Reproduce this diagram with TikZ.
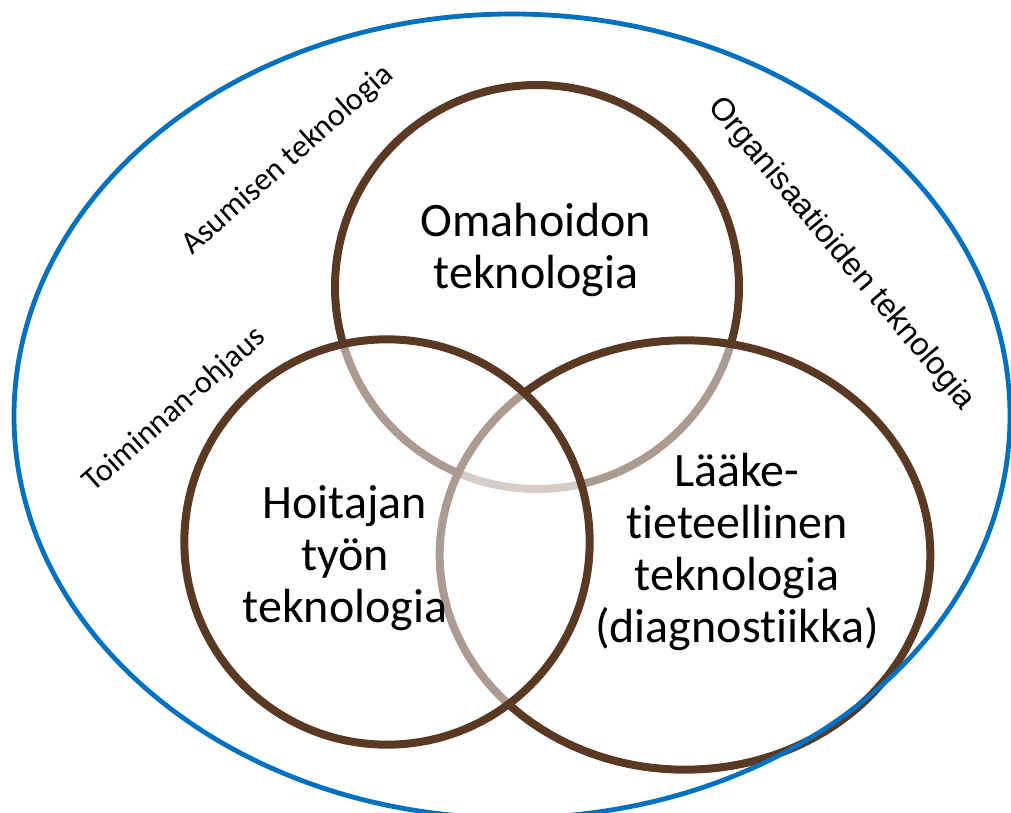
\documentclass[tikz,border=0pt]{standalone}
\usepackage{fontspec}
\setmainfont{Carlito}[RawFeature={-liga;-clig;-dlig}]
\newfontfamily\arialike{Liberation Sans}
\definecolor{ringbrown}{RGB}{89,56,36}
\definecolor{frameblue}{RGB}{0,112,192}
\begin{document}
\begin{tikzpicture}[x=0.75pt,y=-0.75pt,
  ring/.style={draw=ringbrown,line width=6pt,fill=white,fill opacity=0.5,draw opacity=1},
  frame/.style={draw=frameblue,line width=3.6pt},
  bigtext/.style={align=center,font=\fontsize{36}{39}\selectfont,inner sep=0pt},
  sidetext/.style={font=\fontsize{24}{28}\selectfont,inner sep=0pt}]
\useasboundingbox (0,0) rectangle (1011,813);
% the three overlapping rings, bottom to top
\path[ring] (537,287) circle [radius=151.5pt];
\path[ring] (685,555) ellipse [x radius=184pt, y radius=161pt];
\path[ring] (387,542) circle [radius=152pt];
% outer frame
\draw[frame] (512,416) ellipse [x radius=373.5pt, y radius=301.5pt];
% ring captions
\node[bigtext] (selfcare) at (536,250) {Omahoidon\\teknologia};
\node[bigtext] (nursing) at (345,558) {Hoitajan\\työn\\teknologia};
\node[bigtext] (medical) at (737,552) {Lääke-\\tieteellinen\\teknologia\\(diagnostiikka)};
% labels in the outer frame
\node[sidetext,rotate=41.5] (housing) at (288,160) {Asumisen teknologia};
\node[sidetext,rotate=41.5] (erp) at (175,410) {Toiminnan-ohjaus};
\node[sidetext,rotate=-50,font=\arialike\fontsize{24}{28}\selectfont] (orgs) at (841,254) {Organisaatioiden teknologia};
\end{tikzpicture}
\end{document}
